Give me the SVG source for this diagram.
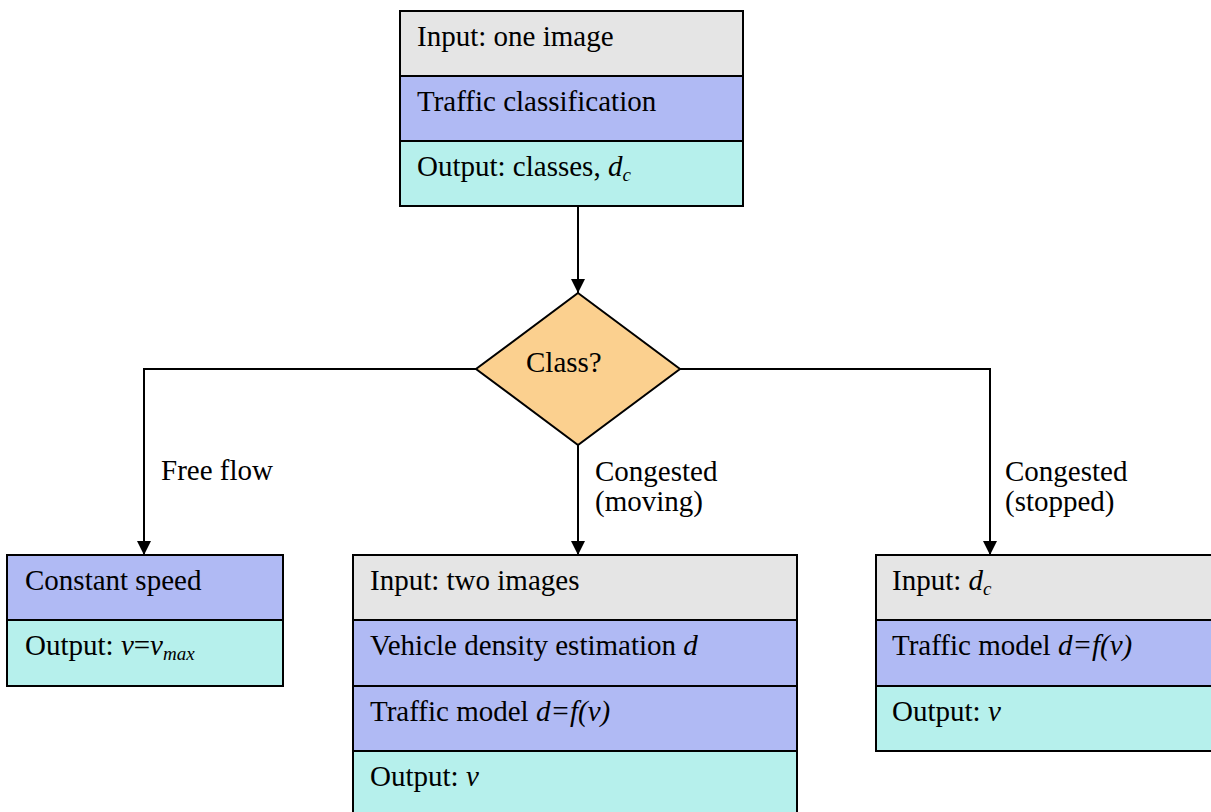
<svg xmlns="http://www.w3.org/2000/svg" width="1211" height="812" viewBox="0 0 1211 812">
<defs>
<style>
text { font-family: 'Liberation Serif', 'Times New Roman', serif; font-size: 29px; fill: #000; }
.i { font-style: italic; }
.sub { font-style: italic; font-size: 19px; }
.gray { fill: #e5e5e5; }
.blue { fill: #b0baf4; }
.cyan { fill: #b6f0ec; }
.box { fill: none; stroke: #000; stroke-width: 2; }
.div { stroke: #000; stroke-width: 2; }
.conn { fill: none; stroke: #000; stroke-width: 2; }
</style>
<marker id="arr" markerUnits="userSpaceOnUse" markerWidth="16" markerHeight="14" refX="14" refY="7" orient="auto">
<path d="M0,0 L14,7 L0,14 z" fill="#000"/>
</marker>
</defs>
<rect width="1211" height="812" fill="#fff"/>
<g id="connectors">
<line class="conn" x1="578" y1="206" x2="578" y2="293" marker-end="url(#arr)"/>
<polyline class="conn" points="476,369 144,369 144,555" marker-end="url(#arr)"/>
<line class="conn" x1="578" y1="445" x2="578" y2="555" marker-end="url(#arr)"/>
<polyline class="conn" points="680,369 990,369 990,555" marker-end="url(#arr)"/>
<text x="161" y="480">Free flow</text>
<text x="595" y="481">Congested</text>
<text x="595" y="511">(moving)</text>
<text x="1005" y="481">Congested</text>
<text x="1005" y="511">(stopped)</text>
</g>
<g id="top-box">
<rect class="gray" x="400" y="11" width="343" height="65"/>
<rect class="blue" x="400" y="76" width="343" height="65"/>
<rect class="cyan" x="400" y="141" width="343" height="65"/>
<line class="div" x1="400" y1="76" x2="743" y2="76"/>
<line class="div" x1="400" y1="141" x2="743" y2="141"/>
<rect class="box" x="400" y="11" width="343" height="195"/>
<text x="417" y="46">Input: one image</text>
<text x="417" y="111">Traffic classification</text>
<text x="417" y="176">Output: classes, <tspan class="i">d</tspan><tspan class="sub" dy="5">c</tspan></text>
</g>
<g id="decision">
<polygon points="578,293 680,369 578,445 476,369" fill="#fbd08f" stroke="#000" stroke-width="2"/>
<text x="526" y="372">Class?</text>
</g>
<g id="left-box">
<rect class="blue" x="7" y="555" width="276" height="65"/>
<rect class="cyan" x="7" y="620" width="276" height="66"/>
<line class="div" x1="7" y1="620" x2="283" y2="620"/>
<rect class="box" x="7" y="555" width="276" height="131"/>
<text x="25" y="590">Constant speed</text>
<text x="25" y="655">Output: <tspan class="i">v</tspan>=<tspan class="i">v</tspan><tspan class="sub" dy="5">max</tspan></text>
</g>
<g id="middle-box">
<rect class="gray" x="353" y="555" width="444" height="65"/>
<rect class="blue" x="353" y="620" width="444" height="66"/>
<rect class="blue" x="353" y="686" width="444" height="65"/>
<rect class="cyan" x="353" y="751" width="444" height="70"/>
<line class="div" x1="353" y1="620" x2="797" y2="620"/>
<line class="div" x1="353" y1="686" x2="797" y2="686"/>
<line class="div" x1="353" y1="751" x2="797" y2="751"/>
<rect class="box" x="353" y="555" width="444" height="266"/>
<text x="370" y="590">Input: two images</text>
<text x="370" y="655">Vehicle density estimation <tspan class="i">d</tspan></text>
<text x="370" y="721">Traffic model <tspan class="i">d=f(v)</tspan></text>
<text x="370" y="786">Output: <tspan class="i">v</tspan></text>
</g>
<g id="right-box">
<rect class="gray" x="876" y="555" width="340" height="65"/>
<rect class="blue" x="876" y="620" width="340" height="66"/>
<rect class="cyan" x="876" y="686" width="340" height="65"/>
<line class="div" x1="876" y1="620" x2="1216" y2="620"/>
<line class="div" x1="876" y1="686" x2="1216" y2="686"/>
<rect class="box" x="876" y="555" width="340" height="196"/>
<text x="892" y="590">Input: <tspan class="i">d</tspan><tspan class="sub" dy="5">c</tspan></text>
<text x="892" y="655">Traffic model <tspan class="i">d=f(v)</tspan></text>
<text x="892" y="721">Output: <tspan class="i">v</tspan></text>
</g>
</svg>
